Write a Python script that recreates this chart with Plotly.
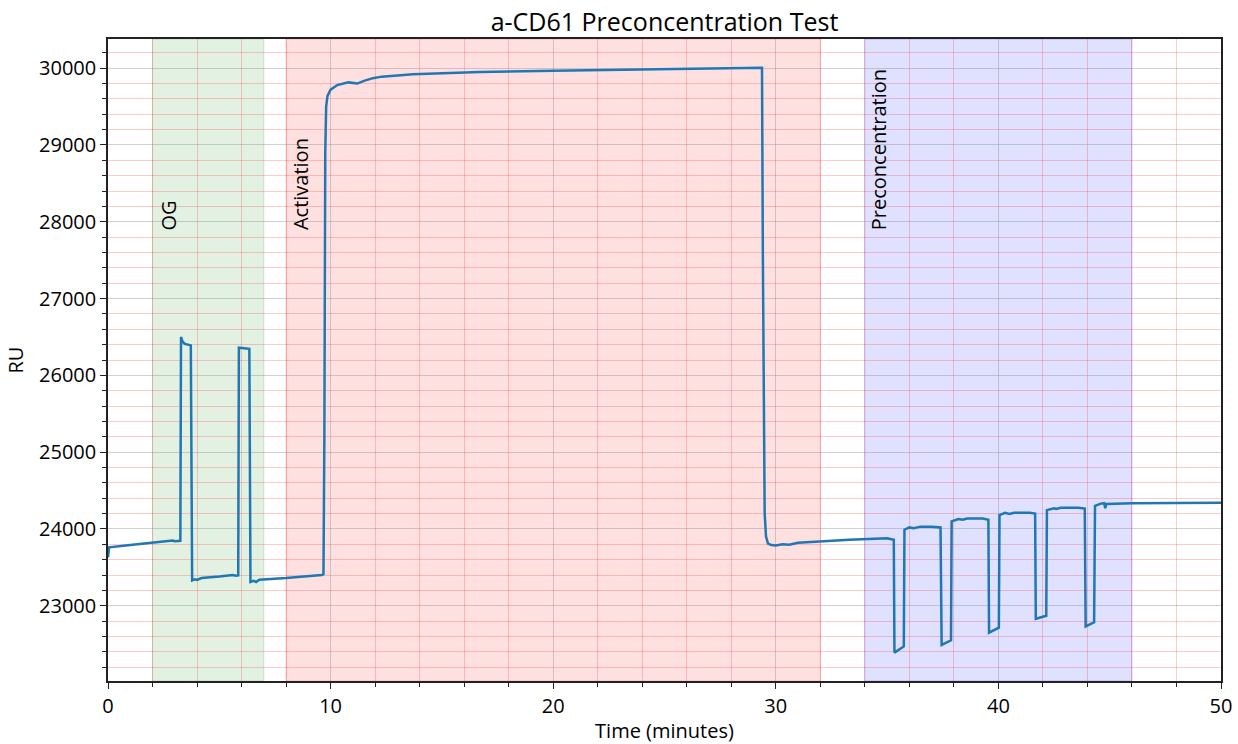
import plotly.graph_objects as go

# ---- data ----
time_min = [
    0.0, 0.05, 1.0, 2.0, 2.9, 3.0, 3.25, 3.28, 3.35, 3.45, 3.72, 3.78, 3.9, 4.0, 4.2, 5.0, 5.6, 5.75, 5.85,
    5.88, 6.35, 6.4, 6.55, 6.65, 6.8, 8.0, 9.0, 9.6, 9.68, 9.72, 9.76, 9.8, 9.86, 10.0, 10.3, 10.8, 11.2,
    11.5, 11.9, 12.3, 13.7, 16.7, 20.0, 25.0, 29.38, 29.42, 29.46, 29.5, 29.56, 29.65, 29.8, 30.0, 30.3,
    30.6, 31.0, 32.0, 33.3, 35.0, 35.2, 35.3, 35.33, 35.75, 35.78, 36.0, 36.2, 36.5, 37.0, 37.4, 37.45,
    37.87, 37.9, 38.2, 38.4, 38.6, 39.3, 39.55, 39.58, 40.02, 40.05, 40.3, 40.5, 40.7, 41.4, 41.65, 41.68,
    42.15, 42.18, 42.5, 42.6, 42.8, 43.6, 43.88, 43.92, 44.3, 44.34, 44.6, 44.75, 44.8, 44.85, 46.0, 50.0,
]
ru = [
    23630, 23760, 23790, 23820, 23850, 23840, 23845, 26500, 26440, 26410, 26390, 23330, 23345, 23335, 23360,
    23380, 23400, 23390, 23395, 26360, 26345, 23310, 23325, 23310, 23340, 23360, 23380, 23400, 23410, 25200,
    28900, 29500, 29640, 29720, 29780, 29815, 29800, 29835, 29870, 29890, 29920, 29950, 29965, 29990, 30005,
    27500, 25000, 24200, 23900, 23810, 23790, 23785, 23800, 23795, 23820, 23840, 23860, 23880, 23870, 23860,
    22390, 22470, 23990, 24020, 24010, 24030, 24030, 24020, 22490, 22550, 24100, 24130, 24120, 24135, 24135,
    24120, 22650, 22715, 24180, 24210, 24195, 24210, 24210, 24200, 22830, 22870, 24245, 24270, 24260, 24275,
    24275, 24265, 22730, 22785, 24300, 24330, 24335, 24270, 24325, 24335, 24340,
]

regions = [(2, 7, "rgba(0,128,0,0.11)", "rgba(0,128,0,0.18)"),
           (8, 32, "rgba(255,0,0,0.12)", "rgba(255,0,0,0.2)"),
           (34, 46, "rgba(0,0,255,0.12)", "rgba(0,0,255,0.2)")]
labels = ["OG", "Activation", "Preconcentration"]
label_x = [2.7, 8.65, 34.6]
label_y = 27860

FONT = "Open Sans"

fig = go.Figure()
fig.add_trace(go.Scatter(x=time_min, y=ru, mode="lines",
                         line=dict(color="#1f77b4", width=2.5), showlegend=False))

for x0, x1, fc, lc in regions:
    fig.add_vrect(x0=x0, x1=x1, fillcolor=fc, line=dict(color=lc, width=1), layer="below")

for txt, lx in zip(labels, label_x):
    fig.add_annotation(x=lx, y=label_y, text=txt, textangle=-90, showarrow=False,
                       xanchor="center", yanchor="bottom",
                       font=dict(family=FONT, size=20, color="black"))

axis_common = dict(
    ticks="outside", ticklen=6, tickwidth=1.3, tickcolor="#222",
    showline=True, linecolor="#222", linewidth=1.5, mirror=True,
    showgrid=True, gridcolor="rgba(140,140,140,0.4)", gridwidth=1,
    zeroline=False, automargin=False,
    tickfont=dict(family=FONT, size=20, color="black"),
)

fig.update_xaxes(range=[0, 50], tick0=0, dtick=10,
                 minor=dict(dtick=2, ticks="outside", ticklen=4, tickcolor="#222",
                            showgrid=True, gridcolor="rgba(255,0,0,0.2)", gridwidth=1),
                 title=dict(text="Time (minutes)", font=dict(family=FONT, size=20, color="black"), standoff=12),
                 **axis_common)
fig.update_yaxes(range=[22020, 30380], tick0=0, dtick=1000, tickformat="d",
                 minor=dict(dtick=200, ticks="outside", ticklen=4, tickcolor="#222",
                            showgrid=True, gridcolor="rgba(255,0,0,0.2)", gridwidth=1),
                 title=dict(text="RU", font=dict(family=FONT, size=20, color="black"), standoff=10),
                 **axis_common)

fig.update_layout(
    width=1238, height=744,
    margin=dict(l=108, r=17, t=39, b=63),
    paper_bgcolor="white", plot_bgcolor="white",
    title=dict(text="a-CD61 Preconcentration Test", x=(108 + 1221) / 2 / 1238, xanchor="center",
               y=1 - 22 / 744, yanchor="middle", yref="container",
               font=dict(family=FONT, size=25, color="black")),
    font=dict(family=FONT),
)

fig.write_html("out.html", config={"displayModeBar": False},
               post_script="document.body.style.margin='0px';document.body.style.overflow='hidden';")
